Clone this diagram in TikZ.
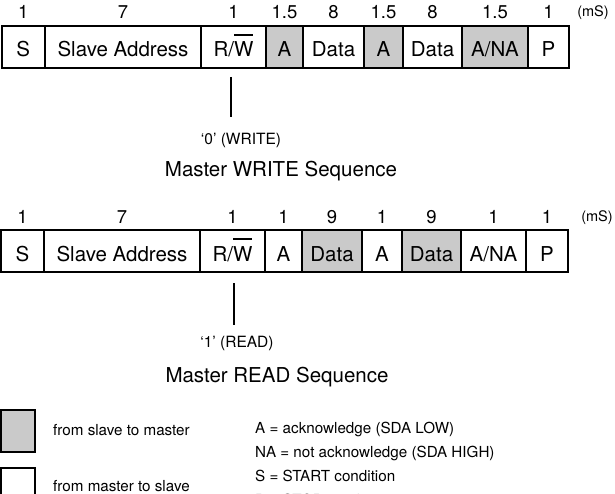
\documentclass[tikz,border=0pt]{standalone}
\usepackage{fontspec}
\setmainfont{TeX Gyre Heros}
\definecolor{slv}{RGB}{202,202,202}
\newcommand\ovW{\leavevmode\setbox0\hbox{W}\rlap{\raisebox{\dimexpr\ht0+6.5pt\relax}{\rule{\wd0}{1.5pt}}}\box0}
\begin{document}
\begin{tikzpicture}[x=1pt,y=-1pt,
  fld/.style={draw=black, line width=2pt, outer sep=0pt, inner sep=0pt,
    minimum height=42pt, text height=20pt, text depth=0pt,
    font=\fontsize{20.5}{24}\selectfont, anchor=west},
  gr/.style={fill=slv},
  num/.style={font=\fontsize{18.5}{22}\selectfont, anchor=base, inner sep=0pt},
  unit/.style={font=\fontsize{14.5}{17}\selectfont, anchor=base, inner sep=0pt},
  small/.style={font=\fontsize{15.5}{18}\selectfont, anchor=base, inner sep=0pt},
  ttl/.style={font=\fontsize{20.5}{24}\selectfont, anchor=base, inner sep=0pt},
  leg/.style={font=\fontsize{15.2}{18}\selectfont, anchor=base west, inner sep=0pt},
  tick/.style={line width=2pt},
  legbox/.style={draw=black, line width=2pt, outer sep=0pt, inner sep=0pt,
    minimum width=34pt, anchor=north west}]
\useasboundingbox (0,0) rectangle (615,494);
\clip (0,0) rectangle (615,494);

% ---- Master WRITE sequence ----
\node[fld, minimum width=43.5pt] (ws) at (1.5,47) {S};
\node[fld, minimum width=156pt] (wsa) at (ws.east) {Slave Address};
\node[fld, minimum width=65pt] (wrw) at (wsa.east) {R/\ovW};
\node[fld, gr, minimum width=37pt] (wa1) at (wrw.east) {A};
\node[fld, minimum width=61pt] (wd1) at (wa1.east) {Data};
\node[fld, gr, minimum width=39pt] (wa2) at (wd1.east) {A};
\node[fld, minimum width=59pt] (wd2) at (wa2.east) {Data};
\node[fld, gr, minimum width=66pt] (wna) at (wd2.east) {A/NA};
\node[fld, minimum width=41pt] (wp) at (wna.east) {P};

\node[num] (wn1) at ([yshift=7.5pt]ws.north) {1};
\node[num] (wn2) at ([yshift=7.5pt]wsa.north) {7};
\node[num] (wn3) at ([yshift=7.5pt]wrw.north) {1};
\node[num] (wn4) at ([yshift=7.5pt]wa1.north) {1.5};
\node[num] (wn5) at ([yshift=7.5pt]wd1.north) {8};
\node[num] (wn6) at ([yshift=7.5pt]wa2.north) {1.5};
\node[num] (wn7) at ([yshift=7.5pt]wd2.north) {8};
\node[num] (wn8) at ([yshift=7.5pt]wna.north) {1.5};
\node[num] (wn9) at ([yshift=7.5pt]wp.north) {1};
\node[unit] (wms) at (593,16.5) {(mS)};

\draw[tick] ([xshift=-3pt,yshift=-9pt]wrw.south) -- ++(0,40);
\node[small] (wlbl) at (241,145) {‘0’ (WRITE)};
\node[ttl] (wttl) at (281,177) {Master WRITE Sequence};

% ---- Master READ sequence ----
\node[fld, minimum width=43pt] (rs) at (1,251) {S};
\node[fld, minimum width=156pt] (rsa) at (rs.east) {Slave Address};
\node[fld, minimum width=65pt] (rrw) at (rsa.east) {R/\ovW};
\node[fld, minimum width=37pt] (ra1) at (rrw.east) {A};
\node[fld, gr, minimum width=60pt] (rd1) at (ra1.east) {Data};
\node[fld, minimum width=40pt] (ra2) at (rd1.east) {A};
\node[fld, gr, minimum width=59pt] (rd2) at (ra2.east) {Data};
\node[fld, minimum width=65pt] (rna) at (rd2.east) {A/NA};
\node[fld, minimum width=42pt] (rp) at (rna.east) {P};

\node[num] (rn1) at ([yshift=6.5pt]rs.north) {1};
\node[num] (rn2) at ([yshift=6.5pt]rsa.north) {7};
\node[num] (rn3) at ([yshift=6.5pt]rrw.north) {1};
\node[num] (rn4) at ([yshift=6.5pt]ra1.north) {1};
\node[num] (rn5) at ([yshift=6.5pt]rd1.north) {9};
\node[num] (rn6) at ([yshift=6.5pt]ra2.north) {1};
\node[num] (rn7) at ([yshift=6.5pt]rd2.north) {9};
\node[num] (rn8) at ([yshift=6.5pt]rna.north) {1};
\node[num] (rn9) at ([yshift=6.5pt]rp.north) {1};
\node[unit] (rms) at (597,222) {(mS)};

\draw[tick] ([xshift=1.5pt,yshift=-11pt]rrw.south) -- ++(0,42);
\node[small] (rlbl) at (237,347) {‘1’ (READ)};
\node[ttl] (rttl) at (277,382) {Master READ Sequence};

% ---- Legend ----
\node[legbox, gr, minimum height=42pt] (lg1) at (1.3,409.5) {};
\node[legbox, minimum height=60pt] (lg2) at (1.3,467.5) {};
\node[leg] (lt1) at (53,435) {from slave to master};
\node[leg] (lt2) at (53,491) {from master to slave};
\node[leg] (k1) at (255,433) {A = acknowledge (SDA LOW)};
\node[leg] (k2) at (255,457) {NA = not acknowledge (SDA HIGH)};
\node[leg] (k3) at (255,481) {S = START condition};
\node[leg] (k4) at (255,505) {P = STOP condition};
\end{tikzpicture}
\end{document}
